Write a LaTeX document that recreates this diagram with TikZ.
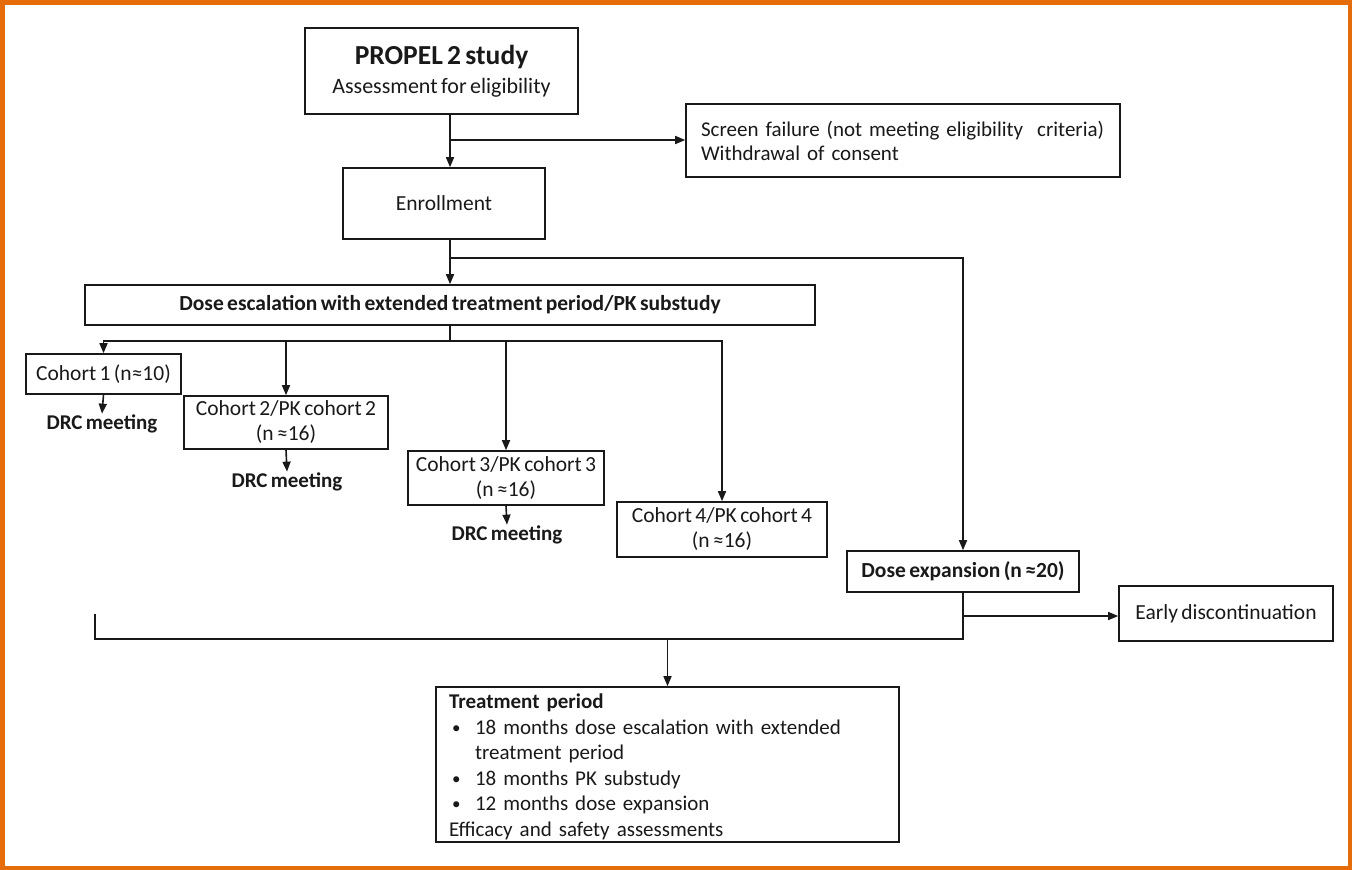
\documentclass[tikz,border=0pt]{standalone}
\usepackage{fontspec}
\setmainfont{Carlito}[WordSpace=0.7]
\usetikzlibrary{arrows.meta}
\definecolor{frameorange}{RGB}{228,108,10}
\definecolor{ink}{RGB}{25,25,25}
\newcommand{\bul}{\makebox[26pt][l]{\hspace{3pt}\raisebox{1pt}{\fontsize{17}{17}\selectfont •}}}
\begin{document}
\begin{tikzpicture}[x=1pt,y=-1pt,
  box/.style={draw=ink, line width=1.6pt, rectangle, inner sep=0pt, align=center, text=ink, font=\fontsize{21.5}{25}\selectfont},
  lbl/.style={text=ink, font=\bfseries\fontsize{21}{24}\selectfont, inner sep=1pt},
  conn/.style={draw=ink, line width=1.6pt},
  arr/.style={conn, -{Triangle[length=10pt,width=8pt]}},
]
\useasboundingbox (0,0) rectangle (1352,870);
\draw[frameorange, line width=4.5pt] (2.25,2.25) rectangle (1349.75,867.75);

% boxes
\node[box, minimum width=273pt, minimum height=86pt] (propel) at (441.5,71)
  {{\bfseries\fontsize{27.5}{31}\selectfont PROPEL 2 study}\\[4pt] {\fontsize{22}{26}\selectfont Assessment for eligibility}};
\node[box, minimum height=73pt, text width=404pt, inner xsep=15pt, align=left,
      font=\fontsize{21}{24}\selectfont] (screen) at (903,140.5)
  {\mbox{Screen failure (not meeting eligibility\ \ criteria)}\\Withdrawal of consent};
\node[box, minimum width=202pt, minimum height=71pt] (enroll) at (444,203.5) {Enrollment};
\node[box, minimum width=730pt, minimum height=40pt, font=\bfseries\fontsize{21.5}{25}\selectfont] (doseesc) at (450,305)
  {Dose escalation with extended treatment period/PK substudy};
\node[box, minimum width=155pt, minimum height=40pt] (c1) at (103.5,374) {Cohort 1 (n≈10)};
\node[box, minimum width=204pt, minimum height=53pt] (c2) at (286,422.5) {Cohort 2/PK cohort 2\\(n ≈16)};
\node[box, minimum width=196pt, minimum height=54pt] (c3) at (506,478) {Cohort 3/PK cohort 3\\(n ≈16)};
\node[box, minimum width=210pt, minimum height=55pt] (c4) at (722,529.5) {Cohort 4/PK cohort 4\\(n ≈16)};
\node[box, minimum width=232pt, minimum height=41pt, font=\bfseries\fontsize{21.5}{25}\selectfont] (dexp) at (963,571.5)
  {Dose expansion (n ≈20)};
\node[box, minimum width=214pt, minimum height=55pt] (early) at (1226,613.5) {Early discontinuation};
\node[box, minimum height=155pt, text width=437pt, inner xsep=13pt, align=left,
      font=\fontsize{21}{25.6}\selectfont] (treat) at (667.5,764.5)
  {\rule{0pt}{19.5pt}\textbf{Treatment period}\\
   \bul 18 months dose escalation with extended\\
   \hspace*{26pt}treatment period\\
   \bul 18 months PK substudy\\
   \bul 12 months dose expansion\\
   Efficacy and safety assessments};

% DRC labels
\node[lbl] (d1) at (102,424) {DRC meeting};
\node[lbl] (d2) at (287,482) {DRC meeting};
\node[lbl] (d3) at (507,535) {DRC meeting};

% junction coordinates
\coordinate (sp) at (450,0);
\coordinate (j1) at (450,140);
\coordinate (j2) at (450,258);
\coordinate (j3) at (450,341);
\coordinate (j5) at (963,616);
\coordinate (j6) at (963,639);
\coordinate (bl) at (95,614);
\coordinate (j7) at (667.5,639);

% connectors
\draw[arr] (propel.south -| sp) -- (enroll.north -| sp);
\draw[arr] (j1) -- (screen.west |- j1);
\draw[arr] (enroll.south -| sp) -- (doseesc.north -| sp);
\draw[arr] (j2) -| (dexp.north);
\draw[conn] (doseesc.south -| sp) -- (j3);
\draw[arr] (j3) -| (c1.north);
\draw[arr] (j3) -| (c2.north);
\draw[arr] (j3) -| (c3.north);
\draw[arr] (j3) -| (c4.north);
\draw[arr] (c1.south) -- (d1.north);
\draw[arr] (c2.south) -- (d2.north);
\draw[arr] (c3.south) -- (d3.north);
\draw[conn] (dexp.south) -- (j6) -- (bl |- j6) -- (bl);
\draw[arr] (j5) -- (early.west |- j5);
\draw[arr] (j7) -- (treat.north);
\end{tikzpicture}
\end{document}
